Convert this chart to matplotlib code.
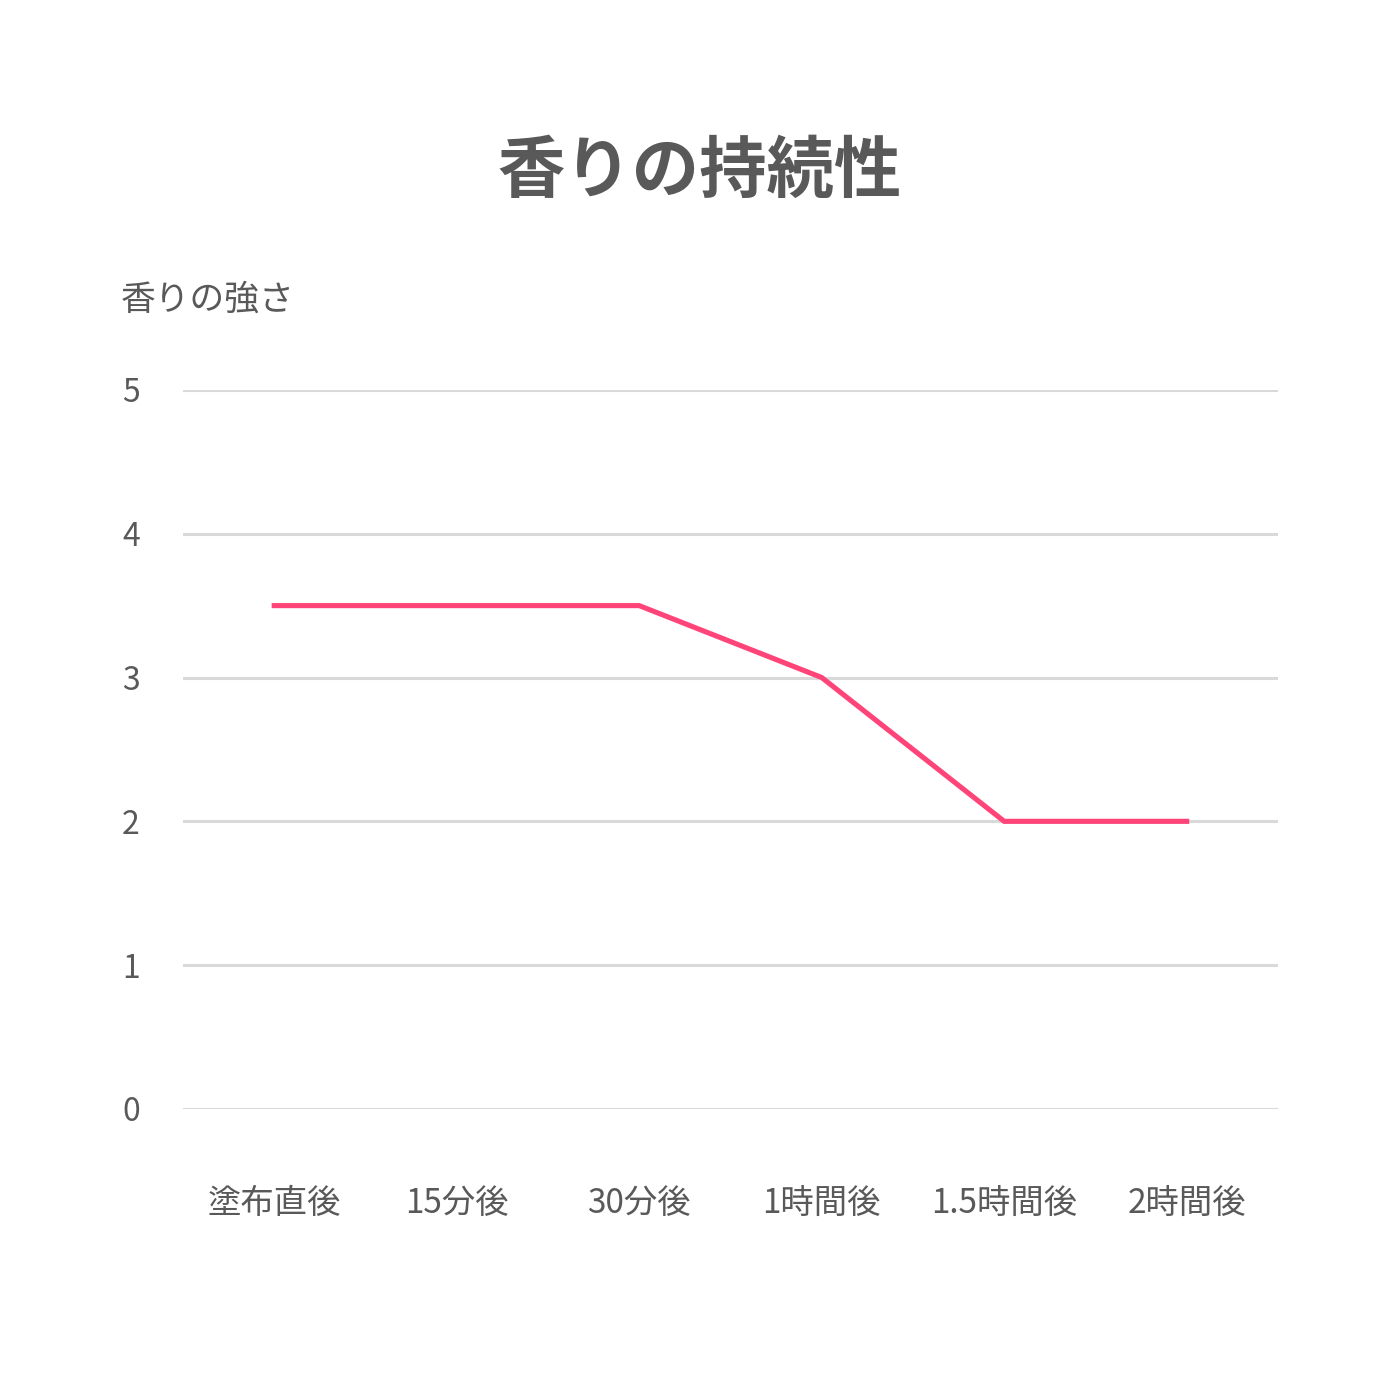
import matplotlib
matplotlib.use("Agg")
import matplotlib.pyplot as plt

plt.rcParams['font.family'] = ['Noto Sans CJK JP', 'DejaVu Sans']

categories = ["塗布直後", "15分後", "30分後", "1時間後", "1.5時間後", "2時間後"]
values = [3.5, 3.5, 3.5, 3.0, 2.0, 2.0]
yticks = [0, 1, 2, 3, 4, 5]

title = "香りの持続性"
ylabel = "香りの強さ"

text_color = "#595959"
line_color = "#FF4479"
grid_color = "#D9D9D9"

fig = plt.figure(figsize=(14, 14), dpi=100)
ax = fig.add_axes([0.1307, 0.2079, 0.7821, 0.5136])

x = list(range(len(categories)))
ax.plot(x, values, color=line_color, linewidth=3.7, solid_joinstyle='miter', zorder=3)

ax.set_xlim(-0.5, len(categories) - 0.5)
ax.set_ylim(0, 5)
ax.set_yticks(yticks)
ax.set_yticklabels([str(t) for t in yticks])
ax.set_xticks(x)
ax.set_xticklabels(categories)

for t in yticks:
    ax.axhline(t, color=grid_color, linewidth=2.2, zorder=1)

for s in ax.spines.values():
    s.set_visible(False)
ax.tick_params(axis='both', length=0, colors=text_color)
ax.tick_params(axis='y', pad=31, labelsize=23)
ax.tick_params(axis='x', pad=55.5, labelsize=24)

fig.text(0.5, 0.877, title, ha='center', va='center', fontsize=48.5, fontweight='bold', color=text_color)
fig.text(0.086, 0.7855, ylabel, ha='left', va='center', fontsize=25, color=text_color)

fig.savefig("out.png", dpi=100, facecolor="white")
